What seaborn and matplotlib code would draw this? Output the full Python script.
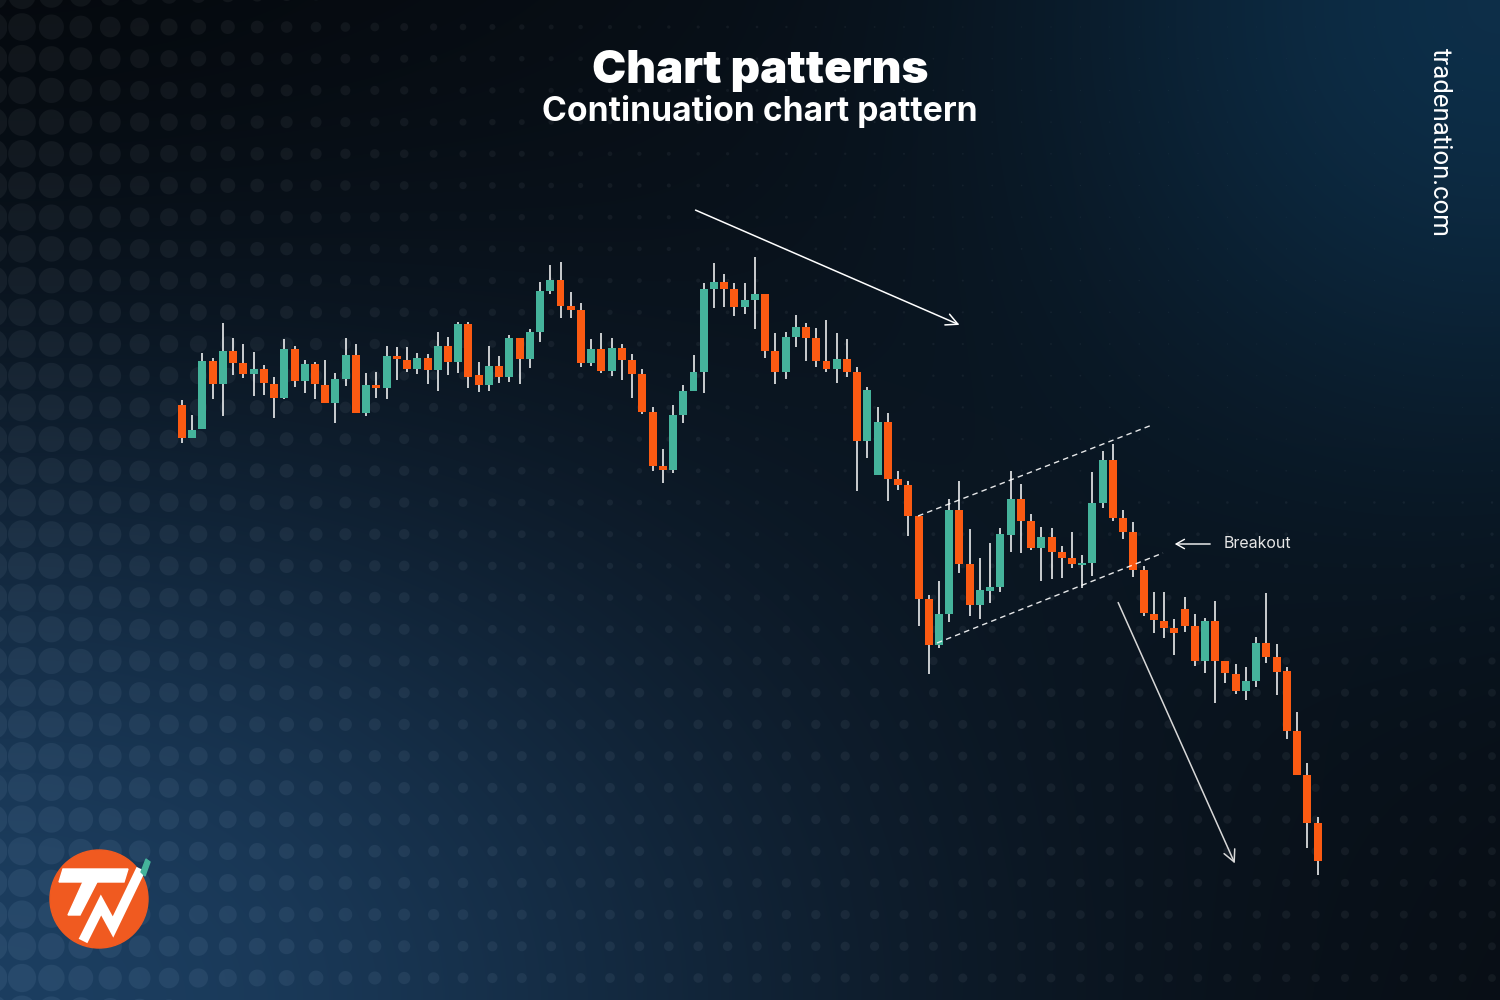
import numpy as np
import pandas as pd
import matplotlib
matplotlib.use('Agg')
import matplotlib.pyplot as plt
import matplotlib.patches as mpatches
import seaborn as sns

# ── Candle data (price units) 
opens = [595, 562, 571, 639, 616, 649, 637, 626, 631, 616, 602, 651, 619, 636, 615, 597,
         621, 645, 587, 615, 612, 644, 640, 631, 642, 630, 654, 638, 676, 625, 615, 634,
         623, 662, 641, 668, 709, 720, 694, 690, 637, 651, 629, 652, 640, 626, 588, 534,
         530, 585, 609, 628, 711, 718, 711, 693, 700, 706, 649, 628, 663, 673, 662, 639,
         631, 641, 628, 559, 525, 578, 521, 515, 484, 401, 355, 386, 490, 436, 395, 409,
         413, 465, 501, 479, 452, 463, 448, 442, 435, 437, 497, 540, 482, 468, 430, 386,
         379, 372, 391, 374, 339, 379, 339, 326, 309, 319, 357, 343, 329, 269, 225, 177]
highs = [600, 585, 647, 642, 677, 662, 656, 648, 635, 623, 661, 654, 640, 638, 640, 627,
         662, 656, 627, 628, 654, 653, 653, 647, 646, 668, 663, 678, 678, 638, 654, 644,
         665, 662, 671, 718, 735, 738, 708, 697, 661, 667, 662, 656, 646, 631, 593, 551,
         595, 615, 645, 717, 737, 726, 717, 717, 743, 706, 667, 668, 685, 677, 672, 680,
         667, 661, 633, 613, 593, 587, 529, 519, 484, 405, 419, 501, 519, 471, 442, 457,
         472, 529, 516, 486, 473, 472, 454, 468, 445, 528, 549, 556, 490, 478, 434, 408,
         408, 381, 403, 386, 382, 399, 339, 336, 333, 363, 407, 356, 333, 288, 237, 183]
lows = [557, 562, 571, 601, 584, 625, 622, 604, 605, 582, 601, 613, 607, 601, 597, 577,
        614, 587, 584, 602, 601, 620, 628, 626, 616, 609, 625, 627, 612, 608, 609, 617,
        618, 616, 632, 658, 706, 682, 682, 633, 634, 627, 624, 620, 602, 586, 529, 517,
        527, 577, 609, 607, 692, 693, 684, 686, 671, 642, 616, 621, 653, 639, 633, 628,
        617, 623, 509, 542, 525, 499, 510, 464, 374, 326, 352, 378, 427, 384, 381, 397,
        408, 448, 447, 450, 419, 421, 422, 432, 412, 424, 492, 479, 461, 423, 384, 367,
        362, 345, 368, 334, 327, 297, 317, 306, 300, 313, 337, 305, 261, 225, 152, 125]
closes = [562, 570, 639, 616, 649, 637, 626, 631, 617, 602, 651, 619, 636, 616, 597, 621,
          645, 587, 615, 612, 644, 641, 631, 642, 630, 654, 638, 676, 623, 615, 634, 623,
          662, 641, 668, 709, 720, 694, 690, 637, 651, 629, 652, 640, 626, 588, 534, 530,
          585, 609, 628, 711, 718, 711, 693, 700, 706, 649, 628, 663, 673, 662, 639, 631,
          641, 628, 559, 610, 578, 521, 515, 484, 401, 355, 386, 490, 436, 395, 410, 413,
          466, 501, 479, 452, 463, 448, 442, 436, 437, 497, 540, 482, 468, 430, 387, 380,
          372, 367, 374, 339, 379, 339, 327, 309, 319, 357, 343, 328, 269, 225, 177, 139]

# annotation anchors (candle index, price)
trend_arrow_1 = [(49.95, 791), (76.25, 674)]
trend_arrow_2 = [(91.40, 400), (103.03, 134)]
channel_upper = [(71.95, 484), (94.82, 575)]
channel_lower = [(73.80, 357), (95.89, 447)]
breakout_tail, breakout_head = (100.78, 456), (96.77, 456)

GREEN = "#45b39b"
ORANGE = "#fb5a12"

W, H = 1500, 1000

sns.set_theme(style="dark")
plt.rcParams['font.family'] = ['Inter', 'DejaVu Sans']

df = pd.DataFrame({"open": opens, "high": highs, "low": lows, "close": closes})
df["idx"] = np.arange(len(df))
df["up"] = df["close"] >= df["open"]

# ── background: navy gradient with halftone dots
yy, xx = np.mgrid[0:H, 0:W] + 0.5
dark = np.array([7, 12, 18]) / 255
blue_bl = np.array([28, 62, 96]) / 255
blue_tr = np.array([13, 46, 72]) / 255
w1 = np.exp(-((xx / 850) ** 2 + ((H - yy) / 600) ** 2))
w2 = np.exp(-(((W - xx) / 480) ** 2 + (yy / 480) ** 2))
w0 = np.exp(-((xx / 500) ** 2 + (yy / 450) ** 2))
base = dark[None, None, :] * (1 - 0.45 * w0[..., None])
base = base + (blue_bl - dark)[None, None, :] * w1[..., None] + (blue_tr - dark)[None, None, :] * w2[..., None]

sx, sy, ox, oy = 29.4, 31.7, 22, 27
cx = np.round((xx - ox) / sx) * sx + ox
cy = np.round((yy - oy) / sy) * sy + oy
d = np.hypot(xx - cx, yy - cy)
r = np.maximum(14.8 * np.exp(-cx / (300 + 160 * cy / H)),
               5.5 * np.clip((cy - 430) / 250, 0, 1) * (1 - 0.3 * cx / W))
r = np.minimum(r, 14.8)
alpha = np.clip(r - d + 0.5, 0, 1)
img = base + alpha[..., None] * 0.045
img = np.clip(img, 0, 1)

fig = plt.figure(figsize=(15, 10), dpi=100)
bg = fig.add_axes([0, 0, 1, 1])
bg.imshow(img, extent=(0, W, H, 0), aspect='auto', interpolation='bilinear')
bg.set_xlim(0, W)
bg.set_ylim(H, 0)
bg.axis('off')

# titles / branding
bg.text(760, 83, "Chart patterns", ha='center', va='baseline', color='white',
        fontsize=33, fontweight='black')
bg.text(760, 121, "Continuation chart pattern", ha='center', va='baseline', color='white',
        fontsize=24.2, fontweight='bold')
bg.text(1440, 48, "tradenation.com", rotation=270, ha='center', va='top', color='white',
        fontsize=18.5, family=['Roboto', 'DejaVu Sans'])

# logo
bg.add_patch(mpatches.Circle((99, 899), 49, color="#f05a20", zorder=3))
bg.add_patch(mpatches.Polygon([(63, 869), (128, 869), (124, 882), (59, 882)],
                              color='white', zorder=4))
bg.add_patch(mpatches.Polygon([(83, 882), (97, 882), (80, 915), (68, 915)],
                              color='white', zorder=4))
bg.plot([83, 101, 113, 141], [941, 905, 927, 869], color='white', lw=7,
        solid_joinstyle='miter', solid_capstyle='butt', zorder=4)
bg.add_patch(mpatches.Polygon([(141, 872), (146, 859), (150, 862), (145, 876)],
                              color=GREEN, zorder=4))

# ── candlestick chart
ax = fig.add_axes([0, 0, 1, 1])
ax.patch.set_alpha(0)
ax.axis('off')
step = 10.23
ax.set_xlim(-182 / step, (W - 182) / step)
ax.set_ylim(0, H)

ax.vlines(df["idx"], df["low"], df["high"], color='white', lw=1.1, zorder=2)
body_lo = df[["open", "close"]].min(axis=1)
body_hi = df[["open", "close"]].max(axis=1)
colors = np.where(df["up"], GREEN, ORANGE)
ax.bar(df["idx"], np.maximum(body_hi - body_lo, 2), bottom=body_lo, width=0.78,
       color=colors, linewidth=0, zorder=3)

# channel (dashed)
for seg in (channel_upper, channel_lower):
    seg_df = pd.DataFrame(seg, columns=["x", "y"])
    sns.lineplot(data=seg_df, x="x", y="y", ax=ax, color='white', lw=1.0,
                 linestyle=(0, (4, 3)), alpha=0.9, zorder=4)

arrow_kw = dict(arrowstyle='->,head_length=0.6,head_width=0.3', lw=1.1, mutation_scale=14)
ax.annotate('', xy=trend_arrow_1[1], xytext=trend_arrow_1[0],
            arrowprops=dict(color='white', **arrow_kw))
ax.annotate('', xy=trend_arrow_2[1], xytext=trend_arrow_2[0],
            arrowprops=dict(color='#d8d8d8', **arrow_kw))
ax.annotate('', xy=breakout_head, xytext=breakout_tail,
            arrowprops=dict(color='white', arrowstyle='->,head_length=0.5,head_width=0.28',
                            lw=1.0, mutation_scale=12))
ax.text(breakout_tail[0] + 1.0, breakout_tail[1], "Breakout", color='#e6e6e6',
        fontsize=11.5, va='center', ha='left', family=['Inter', 'DejaVu Sans'])

fig.savefig("out.png", dpi=100)
